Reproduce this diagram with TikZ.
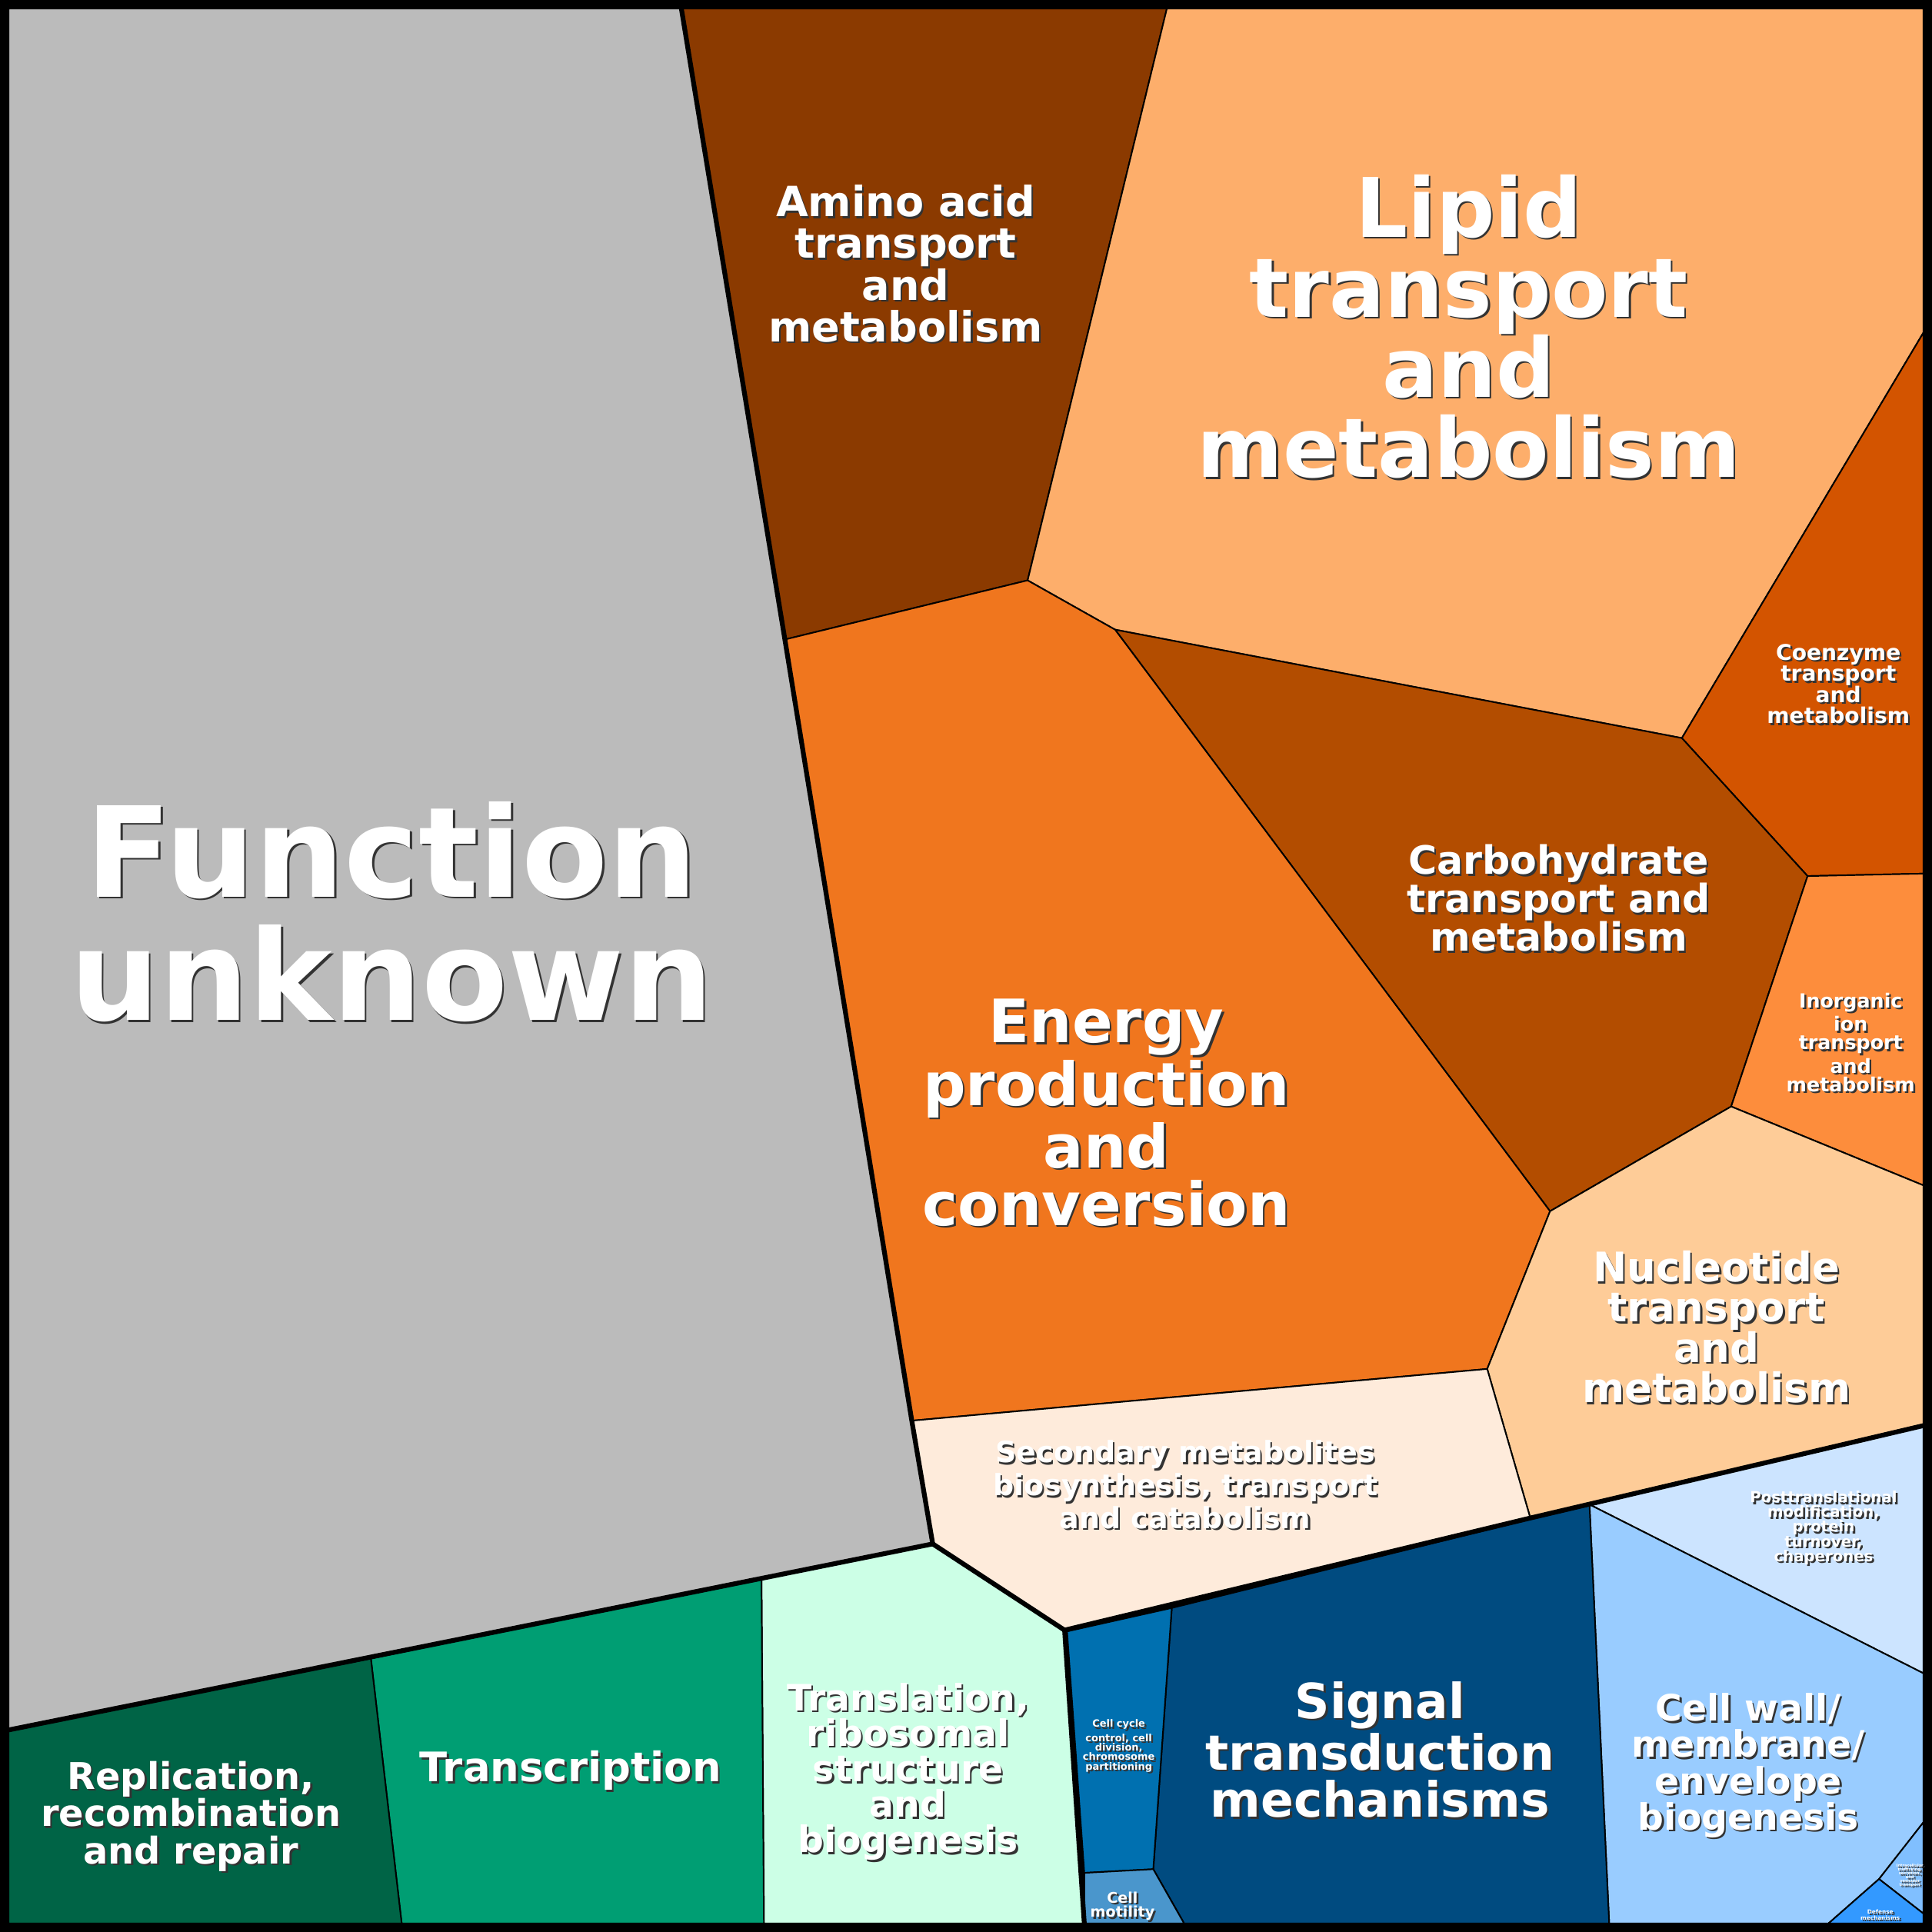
\documentclass[tikz,border=0pt]{standalone}
\usepackage{fontspec}
\setmainfont{DejaVu Sans}
\newcommand\lab[5]{%
 \node[shd,font=\bfseries\fontsize{#3}{#4}\selectfont,xshift=0.15mm,yshift=-0.15mm] (#1s) at (#2) {#5};
 \node[lbl,font=\bfseries\fontsize{#3}{#4}\selectfont] (#1) at (#2) {#5};}
\begin{document}
\begin{tikzpicture}[x=0.1mm,y=-0.1mm,
 cell/.style={draw=black,line width=0.35pt,line join=round},
 thick line/.style={draw=black,line width=1.1pt,line join=round},
 lbl/.style={text=white,align=center,inner sep=0pt},
 shd/.style={text=black!80,align=center,inner sep=0pt}]
\useasboundingbox (0,0) rectangle (1568,1568);
\fill[black] (0,0) rectangle (1568,1568);
\definecolor{cgrey}{RGB}{187,187,187}
\definecolor{camino}{RGB}{139,58,0}
\definecolor{clipid}{RGB}{253,174,107}
\definecolor{ccoenz}{RGB}{211,84,0}
\definecolor{ccarb}{RGB}{179,77,0}
\definecolor{cenergy}{RGB}{240,118,30}
\definecolor{cinorg}{RGB}{253,141,60}
\definecolor{cnucl}{RGB}{254,204,152}
\definecolor{csec}{RGB}{254,235,219}
\definecolor{cpost}{RGB}{204,228,255}
\definecolor{cwall}{RGB}{153,204,255}
\definecolor{cintra}{RGB}{128,191,255}
\definecolor{cdef}{RGB}{51,153,255}
\definecolor{csig}{RGB}{0,75,128}
\definecolor{ccyc}{RGB}{0,112,176}
\definecolor{cmot}{RGB}{74,150,204}
\definecolor{ctrans}{RGB}{204,255,230}
\definecolor{ctscr}{RGB}{0,158,115}
\definecolor{crepl}{RGB}{0,100,70}
% cells
\filldraw[cell,fill=cgrey] (7,7)--(553,7)--(637,519)--(740,1153)--(757,1253)--(7,1404)--cycle;
\filldraw[cell,fill=camino] (553,7)--(947,7)--(834,471)--(637,519)--cycle;
\filldraw[cell,fill=clipid] (947,7)--(1561,7)--(1561,270)--(1365,599)--(905,511)--(834,471)--cycle;
\filldraw[cell,fill=ccoenz] (1561,270)--(1561,709)--(1467,711)--(1365,599)--cycle;
\filldraw[cell,fill=ccarb] (905,511)--(1365,599)--(1467,711)--(1405,898)--(1258,983)--cycle;
\filldraw[cell,fill=cenergy] (637,519)--(834,471)--(905,511)--(1258,983)--(1207,1111)--(740,1153)--cycle;
\filldraw[cell,fill=cinorg] (1467,711)--(1561,709)--(1561,962)--(1405,898)--cycle;
\filldraw[cell,fill=cnucl] (1405,898)--(1561,962)--(1561,1157)--(1242,1232)--(1207,1111)--(1258,983)--cycle;
\filldraw[cell,fill=csec] (740,1153)--(1207,1111)--(1242,1232)--(864,1323)--(757,1253)--cycle;
\filldraw[cell,fill=cpost] (1290,1221)--(1561,1157)--(1561,1358)--cycle;
\filldraw[cell,fill=cwall] (1290,1221)--(1561,1358)--(1561,1479)--(1525,1525)--(1484,1561)--(1306,1561)--cycle;
\filldraw[cell,fill=cintra] (1561,1479)--(1561,1553)--(1525,1525)--cycle;
\filldraw[cell,fill=cdef] (1525,1525)--(1561,1553)--(1561,1561)--(1484,1561)--cycle;
\filldraw[cell,fill=csig] (951,1305)--(1290,1221)--(1306,1561)--(961,1561)--(936,1517)--cycle;
\filldraw[cell,fill=ccyc] (866,1324)--(951,1305)--(936,1517)--(880,1520)--cycle;
\filldraw[cell,fill=cmot] (880,1520)--(936,1517)--(961,1561)--(880,1561)--cycle;
\filldraw[cell,fill=ctrans] (757,1253)--(864,1323)--(880,1561)--(620,1561)--(618,1281)--cycle;
\filldraw[cell,fill=ctscr] (618,1281)--(620,1561)--(326,1561)--(301,1346)--cycle;
\filldraw[cell,fill=crepl] (7,1404)--(301,1346)--(326,1561)--(7,1561)--cycle;
% group boundaries
\draw[thick line] (553,7)--(637,519)--(740,1153)--(757,1253)--(7,1404);
\draw[thick line] (757,1253)--(864,1323)--(880,1561);
\draw[thick line] (864,1323)--(1242,1232)--(1561,1157);
\draw[black,line width=1.8pt] (3,3) rectangle (1565,1565);
% labels
\lab{fu}{318,740}{29}{28.5}{Function\\unknown}
\lab{aa}{735,214}{9.6}{9.6}{Amino acid\\transport\\and\\metabolism}
\lab{li}{1192,265}{19}{18.5}{Lipid\\transport\\and\\metabolism}
\lab{co}{1492,555}{5.0}{4.9}{Coenzyme\\transport\\and\\metabolism}
\lab{ca}{1265,729}{9.0}{8.9}{Carbohydrate\\transport and\\metabolism}
\lab{en}{898,903}{13.8}{13.3}{Energy\\production\\and\\conversion}
\lab{in}{1502,846}{4.5}{4.3}{Inorganic\\ion\\transport\\and\\metabolism}
\lab{nu}{1393,1077}{9.4}{9.3}{Nucleotide\\transport\\and\\metabolism}
\lab{se}{962,1205}{6.75}{6.5}{Secondary metabolites\\biosynthesis, transport\\and catabolism}
\lab{po}{1480,1240}{3.5}{3.4}{Posttranslational\\modification,\\protein\\turnover,\\chaperones}
\lab{cw}{1419,1433}{8.4}{8.4}{Cell wall/\\membrane/\\envelope\\biogenesis}
\lab{sg}{1120,1420}{11.2}{10.9}{Signal\\transduction\\mechanisms}
\lab{cc}{908,1417}{2.3}{2.2}{Cell cycle\\control, cell\\division,\\chromosome\\partitioning}
\lab{cm}{911,1547}{3.4}{3.2}{Cell\\motility}
\lab{tl}{737,1438}{8.4}{8.2}{Translation,\\ribosomal\\structure\\and\\biogenesis}
\lab{ts}{463,1437}{9.4}{9}{Transcription}
\lab{re}{155,1474}{8.5}{8.6}{Replication,\\recombination\\and repair}
\lab{ic}{1550,1522}{0.9}{0.9}{Intracellular\\trafficking,\\secretion,\\and\\vesicular\\transport}
\lab{de}{1526,1554}{1.3}{1.5}{Defense\\mechanisms}
\end{tikzpicture}
\end{document}
